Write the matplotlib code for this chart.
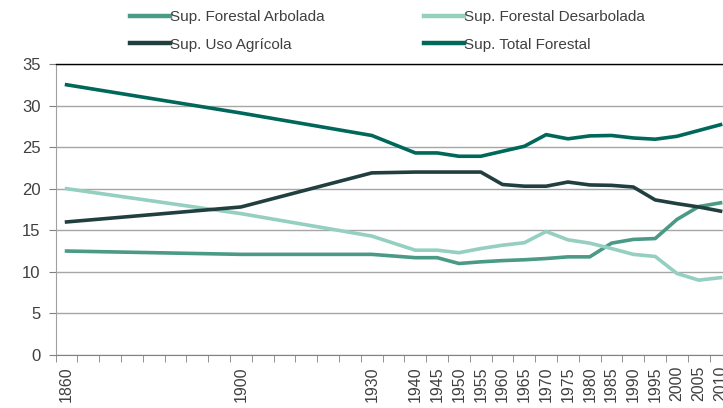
import matplotlib
matplotlib.use("Agg")
import matplotlib.pyplot as plt
from matplotlib.ticker import FixedLocator, NullFormatter

# superficie (millones de ha)
years = [1860, 1900, 1930, 1940, 1945, 1950, 1955, 1960, 1965, 1970, 1975,
         1980, 1985, 1990, 1995, 2000, 2005, 2010]
arbolada = [12.5, 12.1, 12.1, 11.7, 11.7, 11.0, 11.2, 11.35, 11.45, 11.6, 11.8,
            11.8, 13.45, 13.9, 14.0, 16.3, 17.85, 18.3]
desarbolada = [20.0, 17.0, 14.3, 12.6, 12.6, 12.3, 12.8, 13.2, 13.5, 14.85, 13.85,
               13.45, 12.8, 12.1, 11.85, 9.8, 9.0, 9.3]
agricola = [16.0, 17.8, 21.9, 22.0, 22.0, 22.0, 22.0, 20.5, 20.3, 20.3, 20.8,
            20.45, 20.4, 20.2, 18.65, 18.2, 17.8, 17.3]
total = [32.5, 29.1, 26.4, 24.3, 24.3, 23.9, 23.9, 24.5, 25.1, 26.5, 26.0,
         26.35, 26.4, 26.1, 25.95, 26.3, 27.0, 27.7]

labels = ["Sup. Forestal Arbolada", "Sup. Forestal Desarbolada",
          "Sup. Uso Agrícola", "Sup. Total Forestal"]
colors = ["#4a9a86", "#94cfc0", "#223f40", "#00675b"]

fig = plt.figure(figsize=(7.23, 4.08), dpi=100)
ax = fig.add_axes([0.077, 0.13, 0.9347, 0.7132])

l1, = ax.plot(years, arbolada, color=colors[0], lw=2.6, label=labels[0])
l2, = ax.plot(years, desarbolada, color=colors[1], lw=2.6, label=labels[1])
l3, = ax.plot(years, agricola, color=colors[2], lw=2.6, label=labels[2])
l4, = ax.plot(years, total, color=colors[3], lw=2.6, label=labels[3])

ax.set_xlim(1857.5, 2012.5)
ax.set_ylim(0, 35)
ax.set_yticks(range(0, 40, 5))
ax.yaxis.grid(True, color="#a6a6a6", lw=1)
ax.set_axisbelow(True)

ax.set_xticks(years)
ax.set_xticklabels([str(y) for y in years], rotation=90, fontsize=11.5,
                   color="#404040", family="Liberation Sans")
ax.xaxis.set_minor_locator(FixedLocator([1857.5 + 5 * i for i in range(32)]))
ax.xaxis.set_minor_formatter(NullFormatter())
ax.tick_params(axis="x", which="major", length=0, pad=8)
ax.tick_params(axis="x", which="minor", length=5, color="#808080", direction="out")
ax.tick_params(axis="y", length=5, color="#808080", pad=6, labelsize=12,
               labelcolor="#404040")
for t in ax.get_yticklabels():
    t.set_family("Liberation Sans")

ax.spines["right"].set_visible(False)
ax.spines["top"].set_color("black")
ax.spines["top"].set_linewidth(1)
ax.spines["left"].set_color("#a0a0a0")
ax.spines["bottom"].set_color("#808080")

leg = fig.legend([l1, l3, l2, l4], [labels[0], labels[2], labels[1], labels[3]],
                 ncol=2, loc="upper left", bbox_to_anchor=(121 / 723, 0.998),
                 frameon=False, borderpad=0.1, handlelength=2.6, handletextpad=0.0,
                 columnspacing=6.5, labelspacing=0.9,
                 prop={"family": "Liberation Sans", "size": 11})
for t in leg.get_texts():
    t.set_color("#404040")
for h in leg.get_lines():
    h.set_linewidth(3.2)

fig.savefig("out.png", dpi=100)
